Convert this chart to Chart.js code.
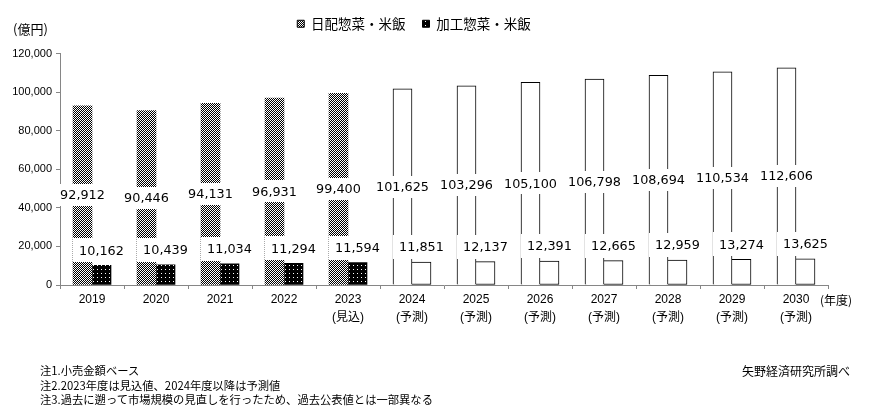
<!DOCTYPE html>
<html lang="ja">
<head>
<meta charset="utf-8">
<script src="https://cdn.jsdelivr.net/npm/chart.js@4"></script>
<style>
  body { margin: 0; background: #fff; }
  #wrap { position: relative; width: 874px; height: 413px; font-family: "Noto Sans CJK JP", sans-serif; color: #000; }
  .txt { position: absolute; white-space: nowrap; }
</style>
</head>
<body>
<div id="wrap">
  <canvas id="grafico" width="874" height="413"></canvas>
  <div class="txt" style="left:13px; top:19px; font-size:13px;">(億円)</div>
  <div class="txt" style="left:820px; top:291px; font-size:12px;">(年度)</div>
  <div class="txt" style="left:40px; top:363px; font-size:11.3px; line-height:14.5px;">
    注1.小売金額ベース<br>
    注2.2023年度は見込値、2024年度以降は予測値<br>
    注3.過去に遡って市場規模の見直しを行ったため、過去公表値とは一部異なる
  </div>
  <div class="txt" style="left:742px; top:362px; font-size:12px;">矢野経済研究所調べ</div>
</div>
<script>
const years = ["2019", "2020", "2021", "2022", "2023", "2024", "2025", "2026", "2027", "2028", "2029", "2030"];
const notes = ["", "", "", "", "(見込)", "(予測)", "(予測)", "(予測)", "(予測)", "(予測)", "(予測)", "(予測)"];
const nichihai = [92912, 90446, 94131, 96931, 99400, 101625, 103296, 105100, 106798, 108694, 110534, 112606];
const kakou = [10162, 10439, 11034, 11294, 11594, 11851, 12137, 12391, 12665, 12959, 13274, 13625];
const firstForecast = 5; // 2024年度以降は予測値

const canvas = document.getElementById("grafico");

// 4x4 tiles for the two bar patterns
function makePattern(whitePixels) {
  const c = document.createElement("canvas");
  c.width = 4; c.height = 4;
  const g = c.getContext("2d");
  g.fillStyle = "#000";
  g.fillRect(0, 0, 4, 4);
  g.fillStyle = "#fff";
  whitePixels.forEach(p => g.fillRect(p[0], p[1], 1, 1));
  return g.createPattern(c, "repeat");
}
const checker = makePattern([[0,0],[2,0],[1,1],[3,1],[0,2],[2,2],[1,3],[3,3]]);
const dots = makePattern([[1,1]]);

const labels = years.map((y, i) => notes[i] ? [y, notes[i]] : y);

const fill = (pat) => years.map((y, i) => i >= firstForecast ? "#fff" : pat);
const border = years.map((y, i) => i >= firstForecast ? 1 : 0);

// white boxed value labels
const valueLabels = {
  id: "valueLabels",
  afterDatasetsDraw(chart) {
    const ctx = chart.ctx;
    ctx.save();
    ctx.font = '12.8px "DejaVu Sans"';
    ctx.textAlign = "center";
    ctx.textBaseline = "middle";
    chart.data.datasets.forEach((ds, di) => {
      const meta = chart.getDatasetMeta(di);
      meta.data.forEach((bar, i) => {
        const text = ds.data[i].toLocaleString("en-US");
        const w = ctx.measureText(text).width + 12;
        const h = di === 0 ? 22 : 24;
        const cy = di === 0 ? (bar.y + bar.base) / 2 : bar.y - 15;
        ctx.fillStyle = "#fff";
        ctx.fillRect(Math.round(bar.x - w / 2), Math.round(cy - h / 2), Math.round(w), h);
        ctx.fillStyle = "#000";
        ctx.fillText(text, bar.x, cy + 1);
      });
    });
    ctx.restore();
  }
};

// extra room under the legend
const legendMargin = {
  id: "legendMargin",
  beforeInit(chart) {
    const fit = chart.legend.fit;
    chart.legend.fit = function () {
      fit.bind(chart.legend)();
      this.height += 13;
    };
  }
};

const axisGray = "#868686";

new Chart(canvas, {
  type: "bar",
  data: {
    labels: labels,
    datasets: [
      {
        label: "日配惣菜・米飯",
        data: nichihai,
        backgroundColor: fill(checker),
        borderColor: "#000",
        borderWidth: border,
        barThickness: 19
      },
      {
        label: "加工惣菜・米飯",
        data: kakou,
        backgroundColor: fill(dots),
        borderColor: "#000",
        borderWidth: border,
        borderSkipped: c => c.dataIndex >= firstForecast ? "left" : "start",
        barThickness: 19
      }
    ]
  },
  options: {
    responsive: false,
    animation: false,
    layout: { padding: { left: 0, right: 46, top: 0, bottom: 83 } },
    plugins: {
      tooltip: { enabled: false },
      legend: {
        position: "top",
        labels: {
          color: "#000",
          boxWidth: 7,
          boxHeight: 7,
          padding: 17,
          font: { family: '"Noto Sans CJK JP"', size: 13.5 },
          generateLabels: chart => chart.data.datasets.map((ds, i) => ({
            text: ds.label,
            fillStyle: i === 0 ? checker : dots,
            strokeStyle: "#000",
            lineWidth: 1,
            datasetIndex: i,
            hidden: false
          }))
        }
      }
    },
    scales: {
      x: {
        afterFit(scale) { scale.height = 45; },
        border: { color: axisGray },
        grid: { offset: true, drawOnChartArea: false, tickLength: 4, color: axisGray },
        ticks: {
          color: "#000",
          padding: 2,
          maxRotation: 0,
          autoSkip: false,
          font: { family: '"Liberation Sans", "Noto Sans CJK JP"', size: 12, lineHeight: 1.5 }
        }
      },
      y: {
        min: 0,
        max: 120000,
        afterFit(scale) { scale.width = 60; },
        border: { color: axisGray },
        grid: { drawOnChartArea: false, tickLength: 4, color: axisGray },
        ticks: {
          stepSize: 20000,
          color: "#000",
          padding: 4,
          font: { family: '"Liberation Sans"', size: 11 },
          callback: v => v.toLocaleString("en-US")
        }
      }
    }
  },
  plugins: [valueLabels, legendMargin]
});
</script>
</body>
</html>
